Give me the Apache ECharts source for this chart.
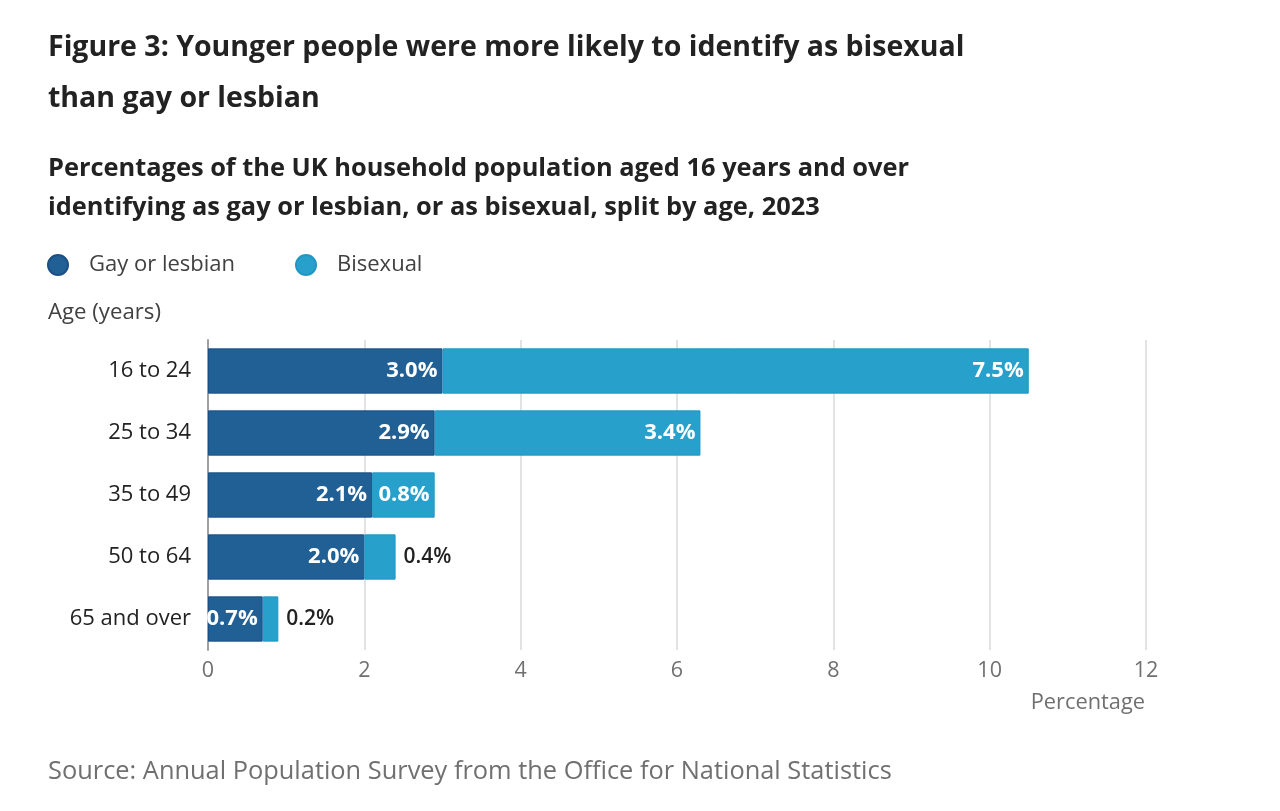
<!DOCTYPE html>
<html>
<head>
<meta charset="utf-8">
<script src="https://cdn.jsdelivr.net/npm/echarts@6/dist/echarts.min.js"></script>
<style>
html,body{margin:0;padding:0;background:#fff;}
#chart{width:1280px;height:811px;}
</style>
</head>
<body>
<div id="chart"></div>
<script>
const categories = ['16 to 24', '25 to 34', '35 to 49', '50 to 64', '65 and over'];
const gayOrLesbian = [3.0, 2.9, 2.1, 2.0, 0.7];
const bisexual = [7.5, 3.4, 0.8, 0.4, 0.2];
const xTicks = [0, 2, 4, 6, 8, 10, 12];
const seriesNames = ['Gay or lesbian', 'Bisexual'];

const FONT = '"Open Sans", "Noto Sans", sans-serif';
const DARK = '#206095';
const LIGHT = '#27a0cc';

function fmt(v) { return v.toFixed(1) + '%'; }

const insideLabel = {
  show: true, position: 'insideRight', distance: 5,
  color: '#ffffff', fontWeight: 'bold', fontSize: 22, fontFamily: FONT,
  formatter: p => fmt(p.value)
};
const outsideLabel = {
  show: true, position: 'right', distance: 8,
  color: '#222222', fontWeight: 600, fontSize: 21, fontFamily: FONT,
  formatter: p => fmt(p.value)
};

const chart = echarts.init(document.getElementById('chart'), null, {renderer: 'canvas'});
chart.setOption({
  backgroundColor: '#ffffff',
  animation: false,
  textStyle: {fontFamily: FONT},
  graphic: [
    {type: 'text', left: 48, top: 22, style: {
      text: 'Figure 3: Younger people were more likely to identify as bisexual\nthan gay or lesbian',
      font: 'bold 28.5px ' + FONT, fill: '#222222', lineHeight: 51}},
    {type: 'text', left: 48, top: 149, style: {
      text: 'Percentages of the UK household population aged 16 years and over\nidentifying as gay or lesbian, or as bisexual, split by age, 2023',
      font: 'bold 25.4px ' + FONT, fill: '#222222', lineHeight: 39}},
    {type: 'text', left: 48, top: 302, style: {
      text: 'Age (years)', font: '22.2px ' + FONT, fill: '#414042'}},
    {type: 'text', right: 135, top: 692, style: {
      text: 'Percentage', font: '21.8px ' + FONT, fill: '#707071', align: 'right'}},
    {type: 'text', left: 48, top: 759, style: {
      text: 'Source: Annual Population Survey from the Office for National Statistics',
      font: '25.4px ' + FONT, fill: '#707071'}}
  ],
  legend: {
    left: 47, top: 254, padding: 0,
    icon: 'circle', itemWidth: 20, itemHeight: 20, itemGap: 60,
    textStyle: {fontSize: 22, color: '#414042', fontFamily: FONT, padding: [0, 0, 0, 16]},
    data: seriesNames
  },
  grid: {left: 208, right: 134, top: 340, bottom: 161, containLabel: false},
  xAxis: {
    type: 'value', min: xTicks[0], max: xTicks[xTicks.length - 1], interval: 2,
    axisLine: {show: false}, axisTick: {show: false},
    axisLabel: {color: '#707071', fontSize: 21.5, fontFamily: FONT, margin: 10},
    splitLine: {show: true, lineStyle: {color: '#d9d9d9', width: 1.5}}
  },
  yAxis: {
    type: 'category', inverse: true, data: categories,
    axisLine: {show: true, lineStyle: {color: '#a0a0a0', width: 2}},
    axisTick: {show: false},
    axisLabel: {color: '#222222', fontSize: 22, fontFamily: FONT, margin: 17}
  },
  series: [
    {
      name: seriesNames[0], type: 'bar', stack: 'total', barCategoryGap: '27%',
      itemStyle: {color: DARK, borderColor: '#1b4f86', borderWidth: 1},
      label: insideLabel,
      data: gayOrLesbian
    },
    {
      name: seriesNames[1], type: 'bar', stack: 'total', barCategoryGap: '27%',
      itemStyle: {color: LIGHT, borderColor: '#2196c4', borderWidth: 1},
      data: bisexual.map(v => ({value: v, label: v >= 0.5 ? insideLabel : outsideLabel}))
    }
  ]
});
</script>
</body>
</html>
